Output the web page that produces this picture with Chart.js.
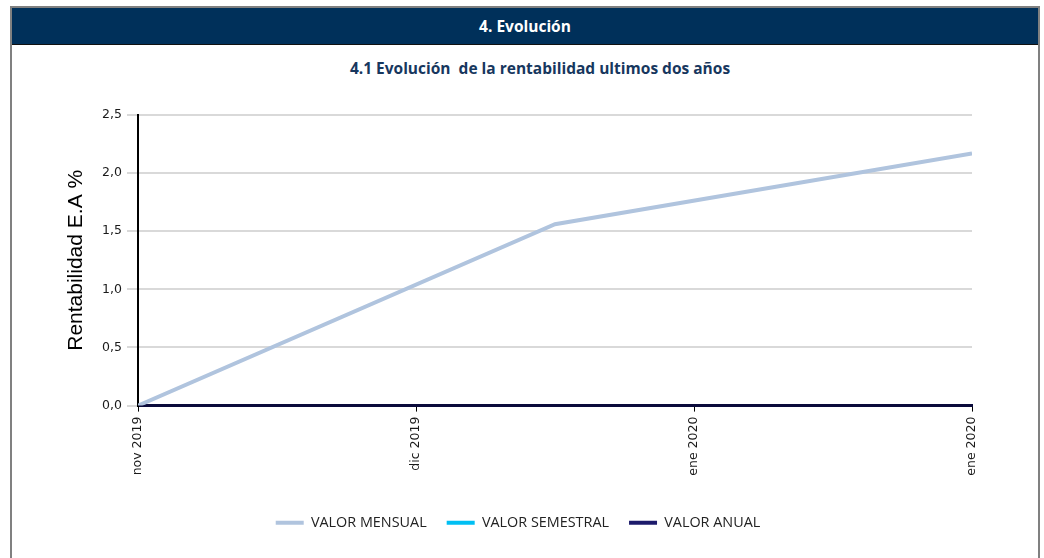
<!DOCTYPE html>
<html lang="es">
<head>
<meta charset="utf-8">
<title>4. Evolución</title>
<script src="https://cdn.jsdelivr.net/npm/chart.js@4.4.1/dist/chart.umd.min.js"></script>
<style>
  html, body { margin: 0; padding: 0; background: #fff; overflow: hidden; }
  body { width: 1044px; height: 558px; position: relative; }
  .caja {
    position: absolute; left: 10px; top: 6px; width: 1030px; height: 600px;
    box-sizing: border-box; border: 2px solid #808080;
  }
  .cabecera {
    height: 36px; background: #00305a; border-bottom: 1px solid #111;
    color: #fff; font: bold 15.5px "Open Sans", sans-serif;
    text-align: center; line-height: 36px;
  }
  .subtitulo {
    position: absolute; left: 0; top: 57px; width: 1044px; padding-left: 36px;
    box-sizing: border-box; text-align: center; white-space: pre;
    color: #17375e; font: bold 15.5px "Open Sans", sans-serif; line-height: 22px;
  }
  #grafico { position: absolute; left: 0; top: 0; }
</style>
</head>
<body>
<div class="caja"><div class="cabecera">4. Evolución</div></div>
<div class="subtitulo">4.1 Evolución  de la rentabilidad ultimos dos años</div>
<canvas id="grafico" width="1044" height="558"></canvas>

<script>
// Etiquetas del eje de fechas
const fechas = ['nov 2019', 'dic 2019', 'ene 2020', 'ene 2020'];
// Posición de cada observación sobre el eje de fechas
const posiciones = [0, 1.5, 3];
// Series (rentabilidad E.A %)
const valorMensual = [0, 1.56, 2.17];
const valorSemestral = [];
const valorAnual = [];

const COLORES = {
  mensual: '#b0c4de',
  semestral: '#00bff3',
  anual: '#1c1a6b'
};

function puntos(valores) {
  return valores.map((v, i) => ({ x: posiciones[i], y: v }));
}

function serie(nombre, valores, color) {
  return {
    label: nombre,
    data: puntos(valores),
    borderColor: color,
    backgroundColor: color,
    borderWidth: 4,
    pointRadius: 0,
    tension: 0
  };
}

const ctx = document.getElementById('grafico').getContext('2d');
new Chart(ctx, {
  type: 'line',
  data: {
    datasets: [
      serie('VALOR MENSUAL', valorMensual, COLORES.mensual),
      serie('VALOR SEMESTRAL', valorSemestral, COLORES.semestral),
      serie('VALOR ANUAL', valorAnual, COLORES.anual)
    ]
  },
  options: {
    responsive: false,
    animation: false,
    layout: {
      padding: { left: 64, right: 72, top: 115, bottom: 18 }
    },
    plugins: {
      tooltip: { enabled: false },
      legend: {
        position: 'bottom',
        labels: {
          boxWidth: 28,
          boxHeight: 4,
          padding: 20,
          color: '#222',
          font: { family: '"Open Sans", sans-serif', size: 14.4 },
          generateLabels: function(chart) {
            const items = Chart.defaults.plugins.legend.labels.generateLabels(chart);
            return items.map(it => Object.assign(it, { lineWidth: 0 }));
          }
        }
      }
    },
    scales: {
      x: {
        type: 'linear',
        min: 0,
        max: fechas.length - 1,
        afterFit: function(scale) { scale.height = 90; },
        ticks: {
          stepSize: 1,
          autoSkip: false,
          maxRotation: 90,
          minRotation: 90,
          padding: 5,
          color: '#1a1a1a',
          font: { family: '"DejaVu Sans", sans-serif', size: 12.5 },
          callback: function(v) { return fechas[v]; }
        },
        grid: {
          drawOnChartArea: false,
          drawTicks: true,
          tickLength: 6,
          color: '#000'
        },
        border: { display: true, color: '#0b0b3b', width: 3 }
      },
      y: {
        min: 0,
        max: 2.5,
        afterFit: function(scale) { scale.width = 74; },
        ticks: {
          stepSize: 0.5,
          padding: 5,
          color: '#1a1a1a',
          font: { family: '"DejaVu Sans", sans-serif', size: 12.5 },
          callback: function(v) { return v.toFixed(1).replace('.', ','); }
        },
        grid: {
          color: '#d9d9d9',
          lineWidth: 2,
          tickLength: 11
        },
        border: { display: true, color: '#000', width: 2 },
        title: {
          display: true,
          text: 'Rentabilidad E.A %',
          color: '#000',
          padding: 0,
          font: { family: '"Liberation Sans", Arial, sans-serif', size: 21 }
        }
      }
    }
  }
});
</script>
</body>
</html>
